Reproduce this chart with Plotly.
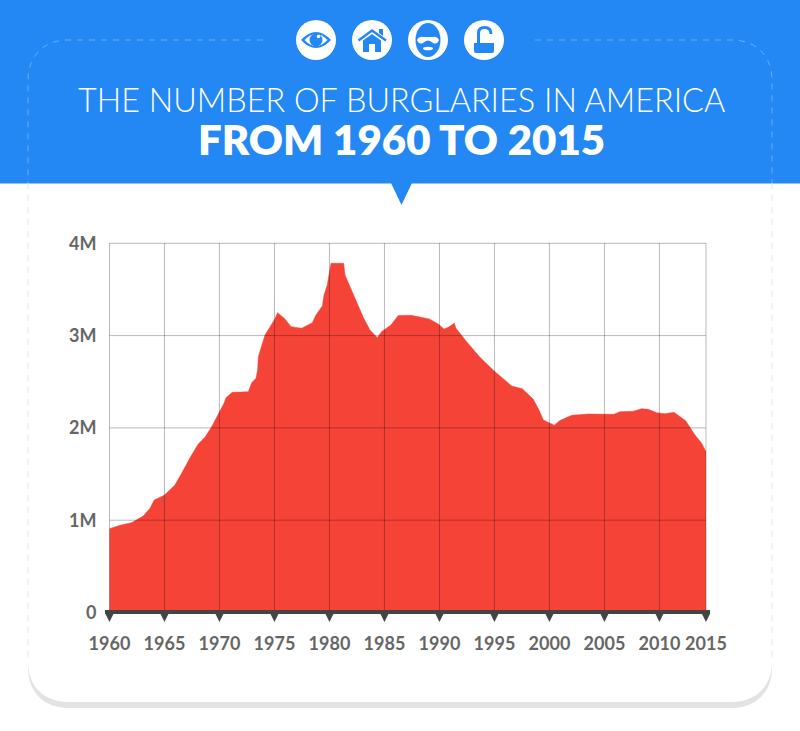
import re
import plotly.graph_objects as go

W, H = 800, 731

# Data. The reference squeezes its last labelled interval,
# so the last tick and last point sit at 2014.23 on the axis scale.
years = [1960, 1960.95, 1962.0, 1963.07, 1963.68, 1964.07, 1964.98, 1965.95, 1966.56, 1967.32, 1968.07,
         1968.68, 1969.29, 1969.98, 1970.41, 1970.59, 1971.16, 1972.62, 1972.93, 1973.32, 1973.47, 1973.53,
         1974.14, 1974.98, 1975.29, 1975.95, 1976.5, 1977.47, 1978.44, 1978.77, 1979.35, 1979.5, 1979.8,
         1980.14, 1981.29, 1981.41, 1982.16, 1983.07, 1983.68, 1984.35, 1984.73, 1985.59, 1986.25, 1987.41,
         1989.07, 1989.89, 1990.41, 1990.8, 1991.35, 1991.5, 1992.47, 1993.68, 1994.98, 1996.56, 1997.53,
         1998.53, 1999.05, 1999.44, 2000.44, 2000.95, 2002.02, 2003.53, 2005.86, 2006.41, 2007.62, 2008.38,
         2008.98, 2009.75, 2010.5, 2011.32, 2012.38, 2013.23, 2013.84, 2014.23]
burglaries = [0.908, 0.945, 0.973, 1.045, 1.129, 1.219, 1.27, 1.381, 1.508, 1.677, 1.826,
              1.898, 2.013, 2.176, 2.266, 2.327, 2.385, 2.392, 2.49, 2.537, 2.627, 2.771,
              3.006, 3.169, 3.248, 3.18, 3.097, 3.079, 3.14, 3.223, 3.32, 3.44, 3.548,
              3.783, 3.783, 3.657, 3.458, 3.198, 3.06, 2.977, 3.042, 3.115, 3.218, 3.22,
              3.18, 3.126, 3.071, 3.09, 3.133, 3.079, 2.934, 2.765, 2.616, 2.454, 2.425,
              2.31, 2.194, 2.086, 2.03, 2.08, 2.136, 2.15, 2.147, 2.176, 2.18, 2.208,
              2.202, 2.165, 2.154, 2.169, 2.078, 1.923, 1.833, 1.742]
x_tick_pos = [1960, 1965, 1970, 1975, 1980, 1985, 1990, 1995, 2000, 2005, 2010, 2014.23]
x_labels = ["1960", "1965", "1970", "1975", "1980", "1985", "1990", "1995", "2000", "2005", "2010", "2015"]
y_ticks = [0, 1, 2, 3, 4]
y_labels = ["0", "1M", "2M", "3M", "4M"]
line1 = "THE NUMBER OF BURGLARIES IN AMERICA"
line2 = "FROM 1960 TO 2015"

BLUE = "#2387F4"
RED = "#F54337"
INK = "#666666"
DARK = "#444444"
DASH_BLUE = "rgba(255,255,255,0.32)"
DASH_WHITE = "#E6E6E6"


def px(path):
    """Convert a path written in page pixels into paper fractions."""
    nums = iter(re.findall(r"-?\d+\.?\d*", path))
    out = re.sub(r"-?\d+\.?\d*", "{}", path)
    vals = []
    for a in nums:
        b = next(nums)
        vals += [f"{float(a) / W:.5f}", f"{1 - float(b) / H:.5f}"]
    return out.format(*vals)


def path(d, fill="rgba(0,0,0,0)", line=None, width=0, dash="solid"):
    return dict(type="path", xref="paper", yref="paper", layer="below", path=px(d), fillcolor=fill,
                line=dict(color=line or "rgba(0,0,0,0)", width=width, dash=dash))


def circle(cx, cy, r, fill):
    return dict(type="circle", xref="paper", yref="paper", layer="below",
                x0=(cx - r) / W, x1=(cx + r) / W, y0=1 - (cy + r) / H, y1=1 - (cy - r) / H,
                fillcolor=fill, line=dict(width=0))


def ellipse(cx, cy, rx, ry, fill):
    return dict(type="circle", xref="paper", yref="paper", layer="below",
                x0=(cx - rx) / W, x1=(cx + rx) / W, y0=1 - (cy + ry) / H, y1=1 - (cy - ry) / H,
                fillcolor=fill, line=dict(width=0))


shapes = [
    # card
    path("M28 600 L772 600 L772 668 C772 692 756 708 732 708 L68 708 C44 708 28 692 28 668 Z", "#E3E3E3"),
    path("M28 600 L772 600 L772 662 C772 686 756 702 732 702 L68 702 C44 702 28 686 28 662 Z", "#FFFFFF"),
    # header
    dict(type="rect", xref="paper", yref="paper", layer="below", x0=0, x1=1, y0=1 - 183.5 / H, y1=1,
         fillcolor=BLUE, line=dict(width=0)),
    path("M391 183 L412 183 L401.5 205 Z", BLUE),
    # dashed outline
    path("M263 40 L68 40 C44 40 28 56 28 80 L28 183", line=DASH_BLUE, width=1, dash="6px,6px"),
    path("M535 40 L732 40 C756 40 772 56 772 80 L772 183", line=DASH_BLUE, width=1, dash="6px,6px"),
    path("M28 183 L28 660", line=DASH_WHITE, width=1, dash="6px,6px"),
    path("M772 183 L772 660", line=DASH_WHITE, width=1, dash="6px,6px"),
    # icon discs
    circle(316, 40, 20, "#FFFFFF"), circle(372, 40, 20, "#FFFFFF"),
    circle(428, 40, 20, "#FFFFFF"), circle(484, 40, 20, "#FFFFFF"),
    # eye
    path("M301 40 Q316 24 331 40 Q316 56 301 40 Z", BLUE),
    path("M304.5 40 Q316 28 327.5 40 Q316 52 304.5 40 Z", "#FFFFFF"),
    circle(316, 40, 6.5, BLUE), circle(318.5, 36.5, 1.8, "#FFFFFF"),
    # house
    path("M358.5 40.5 L372 30.5 L386 40.5", line=BLUE, width=2.4),
    path("M379 29 L383 29 L383 36 L379 33 Z", BLUE),
    path("M372 34 L381 40.5 L381 52 L375 52 L375 44 L369 44 L369 52 L363 52 L363 40.5 Z", BLUE),
    # mask
    ellipse(428, 40, 12.5, 17, BLUE),
    path("M417 40 Q419 36 424 37 L432 37 Q437 36 439 40 Q437 45 433 43 Q428 38 423 43 Q419 45 417 40 Z", "#FFFFFF"),
    ellipse(428, 48.5, 5, 1.8, "#FFFFFF"),
    # lock
    path("M474 43 L494 43 L494 51 Q494 53 492 53 L476 53 Q474 53 474 51 Z", BLUE),
    path("M478.5 43 L478.5 33 Q478.5 27.5 484.5 27.5 Q491 27.5 491 34", line=BLUE, width=3),
]

# grid drawn over the area, so it darkens the red as in the reference
GRID = "rgba(0,0,0,0.27)"
for v in x_tick_pos:
    shapes.append(dict(type="line", xref="x", yref="paper", layer="above", x0=v, x1=v,
                       y0=(H - 612.5) / H, y1=(H - 243) / H, line=dict(color=GRID, width=1)))
for v in y_ticks[1:]:
    shapes.append(dict(type="line", xref="x", yref="y", layer="above", x0=x_tick_pos[0], x1=x_tick_pos[-1],
                       y0=v, y1=v, line=dict(color=GRID, width=1)))
# baseline bar
shapes.append(dict(type="line", xref="paper", yref="paper", layer="above", x0=105 / W, x1=710 / W,
                   y0=(H - 612) / H, y1=(H - 612) / H, line=dict(color=DARK, width=4)))
# tick triangles hanging from the baseline, placed on the x axis
tri_top = (H - 613.5) / H
tri_tip = (H - 622) / H
for v in x_tick_pos:
    shapes.append(dict(type="path", xref="x", yref="paper", xsizemode="pixel", xanchor=v, layer="above",
                       path=f"M-4.2 {tri_top:.5f} L4.2 {tri_top:.5f} L0 {tri_tip:.5f} Z",
                       fillcolor=DARK, line=dict(width=0)))

fig = go.Figure()
fig.add_trace(go.Scatter(x=years, y=burglaries, mode="lines", fill="tozeroy", fillcolor=RED,
                         line=dict(color=RED, width=0.5), hoverinfo="x+y", cliponaxis=True))

tick_font = dict(family="Lato", size=18, color=INK, weight=700)
fig.update_layout(
    width=W, height=H, margin=dict(l=0, r=0, t=0, b=0, autoexpand=False), showlegend=False,
    paper_bgcolor="#FFFFFF", plot_bgcolor="rgba(0,0,0,0)", shapes=shapes,
    xaxis=dict(domain=[103 / W, 713 / W], range=[1959.41, 2014.87], tickvals=x_tick_pos, ticktext=x_labels,
               showgrid=False, zeroline=False, ticks="outside", ticklen=3, tickcolor="rgba(0,0,0,0)",
               tickfont=tick_font),
    yaxis=dict(domain=[(H - 624) / H, (H - 242) / H], range=[-0.1246, 4.014], tickvals=y_ticks, ticktext=y_labels,
               showgrid=False, zeroline=False, ticks="outside", ticklen=2, tickcolor="rgba(0,0,0,0)",
               tickfont=tick_font),
    annotations=[
        dict(text=line1, xref="paper", yref="paper", x=401 / W, y=1 - 100 / H, showarrow=False,
             xanchor="center", yanchor="middle", font=dict(family="Lato", size=32.4, color="#FFFFFF", weight=300)),
        dict(text=line2, xref="paper", yref="paper", x=401 / W, y=1 - 139 / H, showarrow=False,
             xanchor="center", yanchor="middle", font=dict(family="Lato", size=42, color="#FFFFFF", weight=800)),
    ],
)
fig.write_html("out.html", post_script="document.body.style.margin='0';", config=dict(displayModeBar=False))
